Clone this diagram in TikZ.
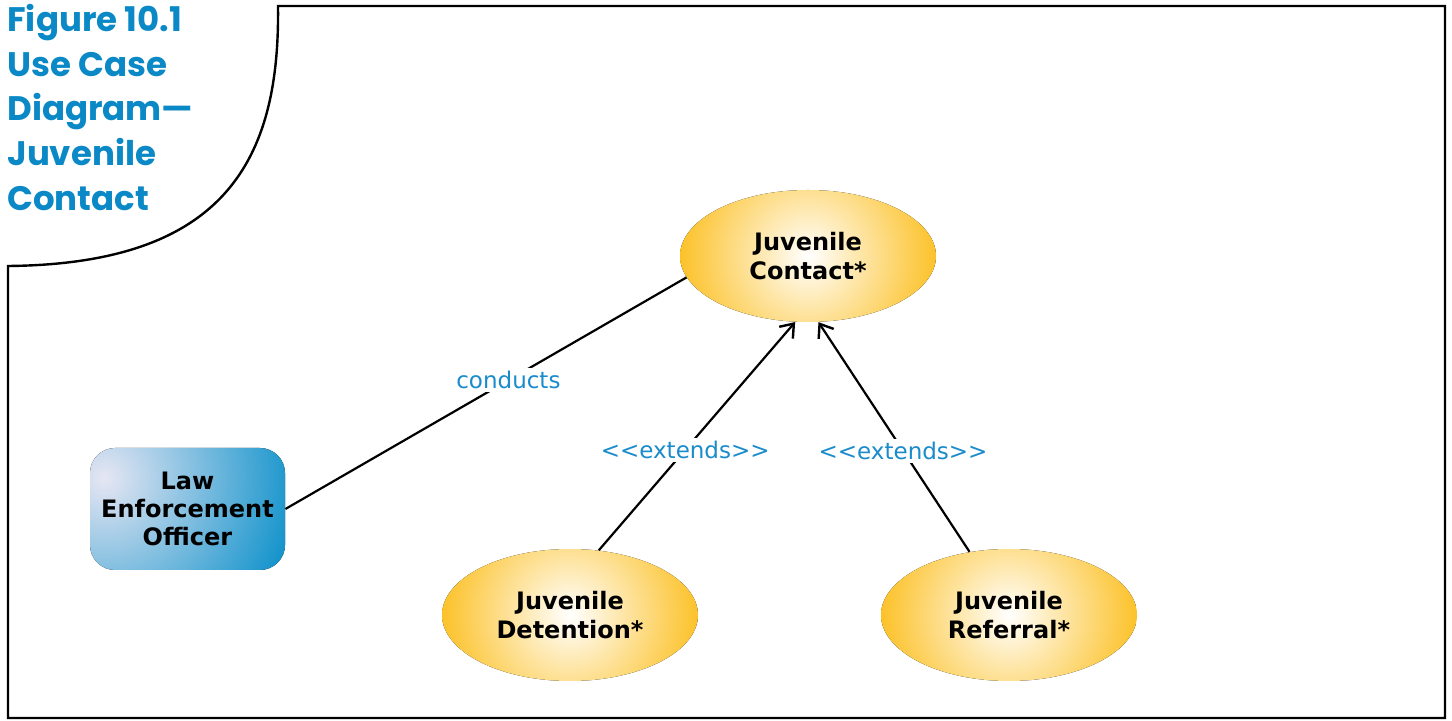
\documentclass[tikz,border=0pt]{standalone}
\usepackage{fontspec}
\setmainfont{DejaVu Sans}
\newfontfamily\titlefont{Poppins}
\usetikzlibrary{shapes.geometric,arrows.meta}
\definecolor{ttlblue}{HTML}{0A89C6}
\definecolor{lblblue}{HTML}{1A8BCB}
\definecolor{ucgold}{HTML}{FCC22A}
\definecolor{actlight}{HTML}{E6E6F3}
\definecolor{actdark}{HTML}{1293CB}
\tikzset{
  usecase/.style={ellipse, minimum width=128pt, minimum height=66pt, inner sep=0pt,
    path picture={\fill[inner color=white, outer color=ucgold]
      (path picture bounding box.center) circle (64pt);},
    align=center, font=\fontsize{12}{14.2}\selectfont\bfseries},
  actor/.style={rectangle, rounded corners=12.5pt, minimum width=97.5pt, minimum height=61pt,
    path picture={\fill[inner color=actlight, outer color=actdark]
      ([shift={(7pt,-15pt)}]path picture bounding box.north west) circle (98pt);},
    align=center, font=\fontsize{12}{14.2}\selectfont\bfseries},
  conn/.style={line width=1.1pt, black},
  extarrow/.style={conn, -{Straight Barb[length=6pt,width=9pt,line width=1.2pt]}},
  lbl/.style={fill=white, inner sep=1.5pt, text=lblblue, font=\fontsize{11.5}{14}\selectfont},
  frameline/.style={line width=1.2pt, black, line join=miter},
}
\begin{document}
\begin{tikzpicture}[x=0.5pt,y=-0.5pt]
\useasboundingbox (0,0) rectangle (1452,721);
% frame
\draw[frameline] (8,266) .. controls (225,264) and (280,160) .. (278,6) -- (1445,6) -- (1445,718) -- (8,718) -- cycle;
% title
\node[anchor=north west, inner sep=0pt, align=left, text=ttlblue,
  font=\titlefont\fontsize{17}{22.3}\selectfont\bfseries] (title) at (7,4)
  {Figure 10.1\\Use Case\\Diagram—\\Juvenile\\Contact};
% nodes
\node[usecase] (contact) at (808,256) {Juvenile\\Contact*};
\node[usecase] (detention) at (570,615) {Juvenile\\Detention*};
\node[usecase] (referral) at (1009,615) {Juvenile\\Referral*};
\node[actor] (officer) at (187.5,509) {Law\\Enforcement\\Officer};
% connectors
\draw[conn] (officer.east) -- node[lbl, pos=0.556] {conducts} (contact.190);
\draw[extarrow] (detention.66) -- node[lbl, pos=0.44] {<{}<extends>{}>} (contact.259);
\draw[extarrow] (referral.122) -- node[lbl, pos=0.44] {<{}<extends>{}>} (contact.279);
\end{tikzpicture}
\end{document}
